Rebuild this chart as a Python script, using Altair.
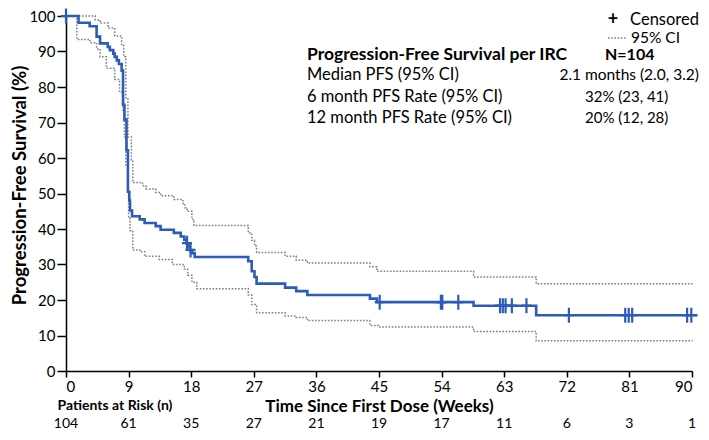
import altair as alt
import pandas as pd

FONT = "Lato"
BLUE = "#2d5cb8"
GRAY = "#808080"

# Kaplan-Meier estimate (weeks, % progression-free)
km_t = [0, 1.8, 3.4, 4.4, 4.9, 6.0, 6.3, 6.8, 7.0, 7.3, 7.6, 8.0, 8.2, 8.4, 8.7,
        8.9, 9.1, 9.2, 9.5, 10.6, 11.3, 12.9, 13.6, 15.5, 16.5, 17.0, 17.3, 17.6,
        17.8, 18.1, 18.5, 26.2, 26.7, 27.1, 27.4, 31.5, 33.1, 34.7, 43.7, 44.7,
        58.6, 67.6, 90.8]
km_s = [100, 98.1, 97.1, 94.2, 92.3, 91.3, 90.4, 89.4, 88.5, 87.5, 86.5, 84.6, 75.0,
        70.8, 62.2, 50.5, 48.0, 45.2, 43.6, 42.7, 41.7, 40.8, 39.8, 38.9, 37.9, 37.0,
        36.0, 35.0, 34.1, 33.2, 32.1, 30.9, 28.1, 26.5, 24.6, 23.5, 22.5, 21.4, 20.4,
        19.4, 18.4, 15.7, 15.7]

# Upper 95% CI
up_t = [0, 4.2, 4.9, 6.05, 7.0, 8.0, 8.3, 8.6, 8.9, 9.4, 9.6, 11.0, 11.5, 12.9, 13.6,
        15.5, 16.8, 17.1, 17.4, 18.1, 18.4, 26.2, 26.7, 27.1, 27.4, 31.5, 33.1, 34.7,
        43.7, 44.7, 58.6, 67.6, 90.1]
up_s = [100, 98.9, 98.0, 96.6, 94.4, 91.7, 88.5, 76.7, 65.9, 59.5, 53.1, 52.2, 51.3,
        50.3, 49.4, 48.3, 47.2, 46.0, 45.0, 42.7, 41.0, 38.9, 36.8, 35.2, 33.4, 32.3,
        31.2, 30.4, 29.4, 28.1, 26.5, 24.6, 24.6]

# Lower 95% CI
lo_t = [0, 1.55, 3.45, 4.4, 4.9, 5.8, 7.0, 7.7, 8.2, 8.4, 8.6, 8.9, 9.0, 9.2, 9.6,
        10.6, 11.3, 13.4, 15.3, 17.0, 17.5, 18.1, 18.8, 26.2, 26.7, 27.4, 31.5, 33.1,
        34.7, 43.7, 44.9, 58.6, 67.6, 90.1]
lo_s = [100, 93.4, 92.5, 90.7, 88.5, 85.3, 82.1, 78.5, 73.0, 65.9, 58.0, 50.4, 43.2,
        39.5, 34.1, 33.6, 32.3, 31.4, 30.0, 28.7, 27.0, 25.0, 23.2, 21.4, 18.7, 16.4,
        15.5, 15.1, 14.2, 12.8, 12.4, 11.1, 8.5, 8.5]

# Censored observations
cens_t = [0, 17.4, 17.9, 45.1, 53.9, 54.1, 56.4, 62.4, 62.8, 63.2, 64.1, 66.2,
          72.3, 80.4, 80.9, 81.4, 89.3, 89.9]
cens_s = [100, 36.0, 34.1, 19.4, 19.4, 19.4, 19.4, 18.4, 18.4, 18.4, 18.4, 18.4,
          15.7, 15.7, 15.7, 15.7, 15.7, 15.7]

# Patients at risk
risk_weeks = [0, 9, 18, 27, 36, 45, 54, 63, 72, 81, 90]
risk_n = [104, 61, 35, 27, 21, 19, 17, 11, 6, 3, 1]

W, H = 626, 355

X = alt.X("t:Q",
          scale=alt.Scale(domain=[0, 90], nice=False),
          axis=alt.Axis(values=risk_weeks, title="Time Since First Dose (Weeks)",
                        grid=False, labelFont=FONT, labelFontSize=15, labelColor="black",
                        tickSize=6, tickColor="black", tickWidth=1.5,
                        domainColor="black", domainWidth=1.5, labelPadding=2,
                        titleFont=FONT, titleFontSize=17, titleFontWeight="bold",
                        titleColor="black", titleX=W / 2, titleY=35,
                        titleBaseline="middle"))
Y = alt.Y("s:Q",
          scale=alt.Scale(domain=[0, 100], nice=False),
          axis=alt.Axis(values=list(range(0, 101, 10)),
                        title="Progression-Free Survival (%)",
                        grid=False, labelFont=FONT, labelFontSize=15, labelColor="black",
                        tickSize=9, tickColor="black", tickWidth=1.5,
                        domainColor="black", domainWidth=1.5, labelPadding=2,
                        titleFont=FONT, titleFontSize=18.5, titleFontWeight="bold",
                        titleColor="black", titleAngle=270, titleX=-47, titleY=169,
                        titleAlign="center", titleBaseline="middle"))

def line(t, s, **kw):
    return alt.Chart(pd.DataFrame({"t": t, "s": s})).mark_line(
        interpolate="step-after", **kw).encode(x=X, y=Y)

upper = line(up_t, up_s, color=GRAY, strokeWidth=1.5, strokeDash=[1.6, 1.6])
lower = line(lo_t, lo_s, color=GRAY, strokeWidth=1.5, strokeDash=[1.6, 1.6])
km = line(km_t, km_s, color=BLUE, strokeWidth=2.6)

cens = alt.Chart(pd.DataFrame({"t": cens_t, "s": cens_s})).mark_point(
    shape="M-0.67,0H0.67M0,-1V1", size=225, filled=False, strokeWidth=2.2,
    color=BLUE, opacity=1).encode(x=X, y=Y)

risk = alt.Chart(pd.DataFrame({"t": risk_weeks, "n": risk_n})).mark_text(
    font=FONT, fontSize=14, color="black", baseline="middle").encode(
    x=X, y=alt.value(408), text="n:Q")

one = pd.DataFrame({"a": [0]})

def txt(s, x, y, size=17, weight="normal", align="left"):
    return alt.Chart(one).mark_text(
        text=s, font=FONT, fontSize=size, fontWeight=weight, align=align,
        baseline="middle", color="black").encode(x=alt.value(x), y=alt.value(y))

legend_rule = alt.Chart(one).mark_rule(
    color=GRAY, strokeWidth=1.5, strokeDash=[1.6, 1.6]).encode(
    x=alt.value(542), x2=alt.value(561), y=alt.value(22))

texts = [
    txt("+", 547, 3.5, size=18, weight="bold", align="center"),
    txt("Censored", 633, 3.5, size=16.5, align="right"),
    txt("95% CI", 565, 22, size=15.5),
    txt("Progression-Free Survival per IRC", 241, 39, size=17.5, weight="bold"),
    txt("N=104", 539, 39, size=16, weight="bold"),
    txt("Median PFS (95% CI)", 241, 59, size=16.5),
    txt("2.1 months (2.0, 3.2)", 633, 59, size=15.5, align="right"),
    txt("6 month PFS Rate (95% CI)", 241, 81, size=16.5),
    txt("32% (23, 41)", 519, 81, size=15),
    txt("12 month PFS Rate (95% CI)", 241, 102, size=16.5),
    txt("20% (12, 28)", 519, 102, size=15),
    txt("Patients at Risk (n)", 49, 390, size=14, weight="bold", align="center"),
]

chart = alt.layer(upper, lower, km, cens, risk, legend_rule, *texts).properties(
    width=W, height=H,
    autosize=alt.AutoSizeParams(type="none"),
    padding={"left": 58, "top": 8, "right": 9, "bottom": 61},
).configure_view(stroke=None)

chart.save("out.html", embed_options={"renderer": "svg", "actions": False})
